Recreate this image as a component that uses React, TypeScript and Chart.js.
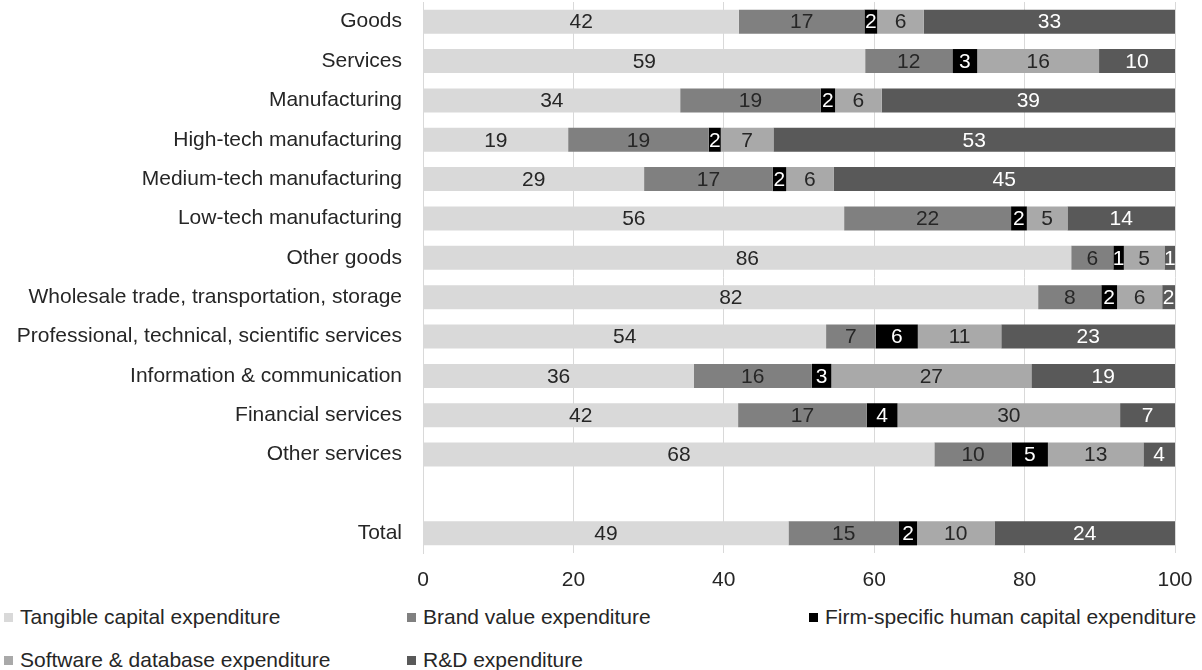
import React, { useEffect, useRef } from "react";
import { Chart, registerables } from "chart.js";

Chart.register(...registerables);

const categories = [
  "Goods",
  "Services",
  "Manufacturing",
  "High-tech manufacturing",
  "Medium-tech manufacturing",
  "Low-tech manufacturing",
  "Other goods",
  "Wholesale trade, transportation, storage",
  "Professional, technical, scientific services",
  "Information & communication",
  "Financial services",
  "Other services",
  "",
  "Total",
];

const tangible = [42.0, 58.8, 34.2, 19.3, 29.4, 56.0, 86.2, 81.8, 53.6, 36.0, 41.9, 68.0, null, 48.6];
const brand = [16.7, 11.6, 18.7, 18.7, 17.1, 22.2, 5.6, 8.4, 6.6, 15.7, 17.1, 10.3, null, 14.7];
const humanCapital = [1.7, 3.3, 1.9, 1.6, 1.8, 2.1, 1.4, 2.1, 5.6, 2.6, 4.1, 4.8, null, 2.4];
const software = [6.2, 16.2, 6.2, 7.0, 6.3, 5.4, 5.4, 6.0, 11.1, 26.6, 29.6, 12.7, null, 10.3];
const rnd = [33.4, 10.1, 39.0, 53.4, 45.4, 14.3, 1.4, 1.7, 23.1, 19.1, 7.3, 4.2, null, 24.0];

const xTicks = [0, 20, 40, 60, 80, 100];

const seriesNames = [
  "Tangible capital expenditure",
  "Brand value expenditure",
  "Firm-specific human capital expenditure",
  "Software & database expenditure",
  "R&D expenditure",
];
const seriesColors = ["#d9d9d9", "#808080", "#000000", "#a9a9a9", "#595959"];
const labelColors = ["#262626", "#262626", "#ffffff", "#262626", "#ffffff"];

const FONT = "'Liberation Sans', Arial, sans-serif";
const FS = 21;

const labelPlugin = {
  id: "segLabels",
  afterDatasetsDraw(chart: any) {
    const ctx = chart.ctx;
    ctx.save();
    ctx.font = `${FS}px ${FONT}`;
    ctx.textAlign = "center";
    ctx.textBaseline = "middle";
    chart.data.datasets.forEach((ds: any, di: number) => {
      const meta = chart.getDatasetMeta(di);
      meta.data.forEach((el: any, i: number) => {
        const v = ds.data[i];
        if (v === null || v === undefined) return;
        const props = el.getProps(["x", "y", "base"], true);
        const cx = (props.x + props.base) / 2;
        ctx.fillStyle = labelColors[di];
        ctx.fillText(String(Math.round(v)), cx, props.y + 1);
      });
    });
    ctx.restore();
  },
};

function ChartView() {
  const ref = useRef<HTMLCanvasElement | null>(null);
  useEffect(() => {
    if (!ref.current) return;
    const series = [tangible, brand, humanCapital, software, rnd];
    const chart = new Chart(ref.current, {
      type: "bar",
      data: {
        labels: categories,
        datasets: series.map((d, i) => ({
          label: seriesNames[i],
          data: d,
          backgroundColor: seriesColors[i],
          borderWidth: 0,
          barPercentage: 0.61,
          categoryPercentage: 1,
        })),
      },
      options: {
        indexAxis: "y",
        animation: false,
        responsive: false,
        maintainAspectRatio: false,
        layout: { padding: { top: 2, right: 27, bottom: 0, left: 0 } },
        plugins: {
          legend: { display: false },
          tooltip: { enabled: false },
        },
        scales: {
          x: {
            stacked: true,
            min: 0,
            max: 100,
            afterBuildTicks: (scale: any) => {
              scale.ticks = xTicks.map((v) => ({ value: v }));
            },
            afterFit: (scale: any) => {
              scale.height = 47;
              scale.paddingLeft = 0;
              scale.paddingRight = 0;
            },
            ticks: {
              font: { family: FONT, size: FS },
              color: "#262626",
              padding: 15,
              maxRotation: 0,
            },
            grid: { color: "#d9d9d9", drawTicks: false, lineWidth: 1 },
            border: { display: false },
          },
          y: {
            stacked: true,
            afterFit: (scale: any) => {
              scale.width = 423;
              scale.paddingTop = 0;
              scale.paddingBottom = 0;
            },
            ticks: {
              font: { family: FONT, size: FS },
              color: "#262626",
              padding: 21,
              autoSkip: false,
            },
            grid: { display: false, drawTicks: false },
            border: { display: true, color: "#d9d9d9", width: 1 },
          },
        },
      },
      plugins: [labelPlugin],
    } as any);
    return () => chart.destroy();
  }, []);
  return (
    <canvas
      ref={ref}
      width={1202}
      height={600}
      style={{ position: "absolute", left: 0, top: 0, width: 1202, height: 600 }}
    />
  );
}

const legendPos = [
  { x: 4, y: 617 },
  { x: 407, y: 617 },
  { x: 809, y: 617 },
  { x: 4, y: 660 },
  { x: 407, y: 660 },
];

export default function App() {
  return (
    <div
      style={{
        position: "absolute",
        left: 0,
        top: 0,
        width: 1202,
        height: 670,
        background: "#ffffff",
        overflow: "hidden",
        fontFamily: FONT,
      }}
    >
      <ChartView />
      {seriesNames.map((name, i) => (
        <div
          key={name}
          style={{
            position: "absolute",
            left: legendPos[i].x,
            top: legendPos[i].y - 13,
            height: 26,
            display: "flex",
            alignItems: "center",
            fontSize: FS,
            color: "#262626",
            whiteSpace: "nowrap",
          }}
        >
          <span
            style={{
              display: "inline-block",
              width: 9,
              height: 9,
              background: seriesColors[i],
              marginRight: 7,
            }}
          />
          {name}
        </div>
      ))}
    </div>
  );
}
